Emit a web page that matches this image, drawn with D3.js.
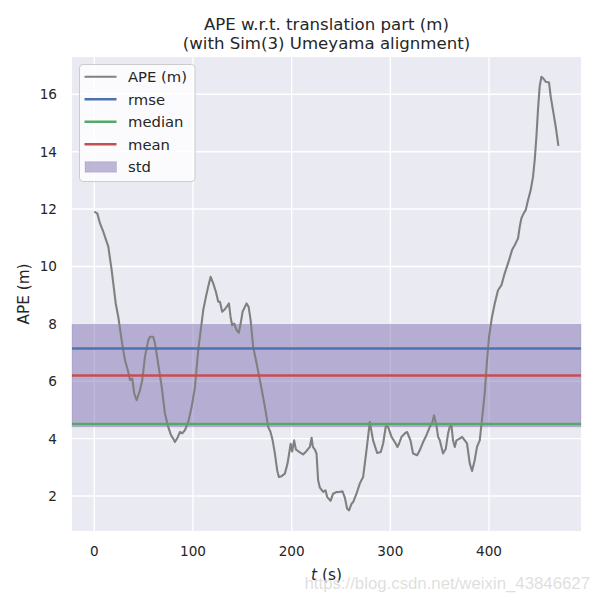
<!DOCTYPE html>
<html>
<head>
<meta charset="utf-8">
<script src="https://cdn.jsdelivr.net/npm/d3@7"></script>
<style>
  body { margin: 0; background: #fff; }
  svg { display: block; font-family: "DejaVu Sans", sans-serif; }
</style>
</head>
<body>
<div id="chart"></div>
<script>
// APE samples: time (s) and error (m)
const tValues = [0, 3.0, 5.8, 9.1, 14.2, 17.6, 21.7, 24.3, 27.7, 31.1, 34.4, 36.2, 38.5, 40.5, 42.9, 46.3, 48.6, 51.3, 54.7, 56.4,
  59.7, 61.5, 64.2, 68.3, 71.6, 74.9, 77.7, 80.0, 81.7, 84.5, 86.8, 89.1, 91.8, 95.2, 98.6, 102.0, 105.3, 110.4, 113.1, 115.4,
  117.9, 120.5, 123.2, 125.6, 127.3, 129.6, 131.6, 134.1, 136.4, 138.1, 139.7, 141.8, 144.2, 146.5, 148.3, 150.3, 152.6, 154.3, 156.4, 158.4,
  161.0, 164.5, 168.5, 172.9, 176.2, 178.6, 180.7, 183.0, 185.3, 187.0, 189.8, 193.1, 195.8, 199.0, 200.5, 202.5, 204.3, 208.3, 211.6, 215.1,
  218.4, 220.2, 221.5, 223.5, 225.2, 226.8, 228.6, 231.9, 234.3, 235.9, 239.4, 242.0, 245.5, 248.1, 251.5, 253.9, 256.2, 258.2, 260.7, 262.3,
  265.7, 269.1, 272.4, 275.8, 279.2, 282.5, 286.6, 290.3, 292.7, 295.4, 297.7, 301.2, 304.5, 307.2, 308.9, 311.3, 314.6, 317.0, 320.4, 323.0,
  327.1, 329.8, 333.2, 336.6, 340.0, 342.7, 344.3, 346.7, 348.4, 350.1, 353.4, 356.2, 358.5, 360.2, 361.9, 363.5, 365.3, 367.0, 370.3, 372.7,
  375.4, 377.7, 380.5, 382.8, 385.5, 387.8, 390.6, 393.1, 395.6, 398.0, 400.0, 403.0, 405.8, 409.1, 412.6, 415.9, 420.3, 423.3, 426.0, 429.4,
  431.1, 432.8, 435.1, 437.2, 439.5, 442.2, 444.6, 446.3, 448.0, 449.6, 451.3, 453.1, 454.7, 457.4, 460.8, 462.5, 464.8, 467.6, 470.3];
const apeValues = [11.91, 11.85, 11.50, 11.21, 10.69, 9.87, 8.71, 8.24, 7.43, 6.73, 6.33, 6.04, 6.09, 5.57, 5.34, 5.69, 6.04, 6.85, 7.43, 7.55,
  7.55, 7.32, 6.73, 5.80, 4.87, 4.41, 4.12, 4.00, 3.88, 4.04, 4.23, 4.18, 4.29, 4.58, 5.10, 5.80, 7.08, 8.48, 8.94, 9.29,
  9.64, 9.41, 9.12, 8.77, 8.77, 8.42, 8.48, 8.59, 8.71, 8.24, 7.95, 8.01, 7.78, 7.69, 8.01, 8.42, 8.59, 8.71, 8.59, 8.13,
  7.20, 6.62, 5.92, 5.10, 4.41, 4.23, 3.94, 3.48, 2.90, 2.66, 2.69, 2.78, 3.13, 3.82, 3.55, 3.94, 3.62, 3.52, 3.45, 3.57,
  3.71, 4.03, 3.71, 3.62, 3.48, 2.55, 2.29, 2.14, 2.20, 1.97, 1.83, 2.08, 2.14, 2.14, 2.16, 1.94, 1.56, 1.50, 1.73, 1.79,
  2.08, 2.44, 2.66, 3.59, 4.58, 3.94, 3.50, 3.53, 3.83, 4.43, 4.41, 4.06, 3.88, 3.71, 3.83, 4.06, 4.18, 4.23, 3.94, 3.48,
  3.42, 3.59, 3.88, 4.12, 4.41, 4.58, 4.81, 4.46, 4.06, 3.94, 3.48, 3.65, 4.18, 4.41, 4.47, 3.94, 3.71, 3.94, 4.00, 4.06,
  3.94, 3.83, 3.13, 2.87, 3.25, 3.71, 3.94, 4.75, 5.57, 6.73, 7.55, 8.24, 8.71, 9.17, 9.35, 9.76, 10.22, 10.57, 10.74, 10.98,
  11.38, 11.68, 11.85, 11.97, 12.31, 12.66, 13.13, 13.71, 14.52, 15.45, 16.27, 16.61, 16.56, 16.44, 16.41, 15.92, 15.45, 14.87, 14.20];

// statistics (evo draws the std band as mean +- std/2)
const statNames = ["rmse", "median", "mean"];
const statValues = [7.14, 4.51, 6.20];
const statColors = ["#4c72b0", "#55a868", "#c44e52"];
const stdValue = 3.58;

const xTicks = [0, 100, 200, 300, 400];
const yTicks = [2, 4, 6, 8, 10, 12, 14, 16];

const width = 600, height = 602;
const plot = {left: 72, top: 57, right: 581, bottom: 531};

const svg = d3.select("#chart").append("svg")
  .attr("width", width)
  .attr("height", height);

const x = d3.scaleLinear().domain([-22.6, 493.2]).range([plot.left, plot.right]);
const y = d3.scaleLinear().domain([0.78, 17.30]).range([plot.bottom, plot.top]);

svg.append("defs").append("clipPath").attr("id", "clip")
  .append("rect")
  .attr("x", plot.left).attr("y", plot.top)
  .attr("width", plot.right - plot.left).attr("height", plot.bottom - plot.top);

// background + grid
svg.append("rect")
  .attr("x", plot.left).attr("y", plot.top)
  .attr("width", plot.right - plot.left).attr("height", plot.bottom - plot.top)
  .attr("fill", "#eaeaf2");

svg.append("g").selectAll("line").data(xTicks).enter().append("line")
  .attr("x1", d => x(d)).attr("x2", d => x(d))
  .attr("y1", plot.top).attr("y2", plot.bottom)
  .attr("stroke", "#fff").attr("stroke-width", 1.4);

svg.append("g").selectAll("line").data(yTicks).enter().append("line")
  .attr("x1", plot.left).attr("x2", plot.right)
  .attr("y1", d => y(d)).attr("y2", d => y(d))
  .attr("stroke", "#fff").attr("stroke-width", 1.4);

const mean = statValues[statNames.indexOf("mean")];

// std band
svg.append("rect")
  .attr("x", plot.left)
  .attr("width", plot.right - plot.left)
  .attr("y", y(mean + stdValue / 2))
  .attr("height", y(mean - stdValue / 2) - y(mean + stdValue / 2))
  .attr("fill", "#8172b2")
  .attr("fill-opacity", 0.5)
  .attr("stroke", "#8172b2")
  .attr("stroke-opacity", 0.25)
  .attr("stroke-width", 1);

// APE curve
const line = d3.line()
  .x((d, i) => x(tValues[i]))
  .y(d => y(d));

svg.append("path")
  .datum(apeValues)
  .attr("clip-path", "url(#clip)")
  .attr("d", line)
  .attr("fill", "none")
  .attr("stroke", "#808080")
  .attr("stroke-width", 2.1)
  .attr("stroke-linejoin", "round");

// statistic lines
svg.append("g").selectAll("line").data(statValues).enter().append("line")
  .attr("x1", plot.left).attr("x2", plot.right)
  .attr("y1", d => y(d)).attr("y2", d => y(d))
  .attr("stroke", (d, i) => statColors[i])
  .attr("stroke-width", 2.5);

// tick labels (seaborn darkgrid: no spines, no tick marks)
svg.append("g").selectAll("text").data(xTicks).enter().append("text")
  .attr("x", d => x(d)).attr("y", 556)
  .attr("text-anchor", "middle")
  .attr("font-size", "13.6px")
  .attr("fill", "#262626")
  .text(d => d);

svg.append("g").selectAll("text").data(yTicks).enter().append("text")
  .attr("x", 57).attr("y", d => y(d) + 5)
  .attr("text-anchor", "end")
  .attr("font-size", "13.6px")
  .attr("fill", "#262626")
  .text(d => d);

// axis labels
const xl = svg.append("text")
  .attr("x", (plot.left + plot.right) / 2).attr("y", 580)
  .attr("text-anchor", "middle")
  .attr("font-size", "15.3px")
  .attr("fill", "#262626");
xl.append("tspan").attr("font-style", "italic").text("t");
xl.append("tspan").text(" (s)");

svg.append("text")
  .attr("transform", `translate(29, ${(plot.top + plot.bottom) / 2}) rotate(-90)`)
  .attr("text-anchor", "middle")
  .attr("font-size", "15.3px")
  .attr("fill", "#262626")
  .text("APE (m)");

// title
const title = svg.append("text")
  .attr("text-anchor", "middle")
  .attr("font-size", "16.6px")
  .attr("fill", "#262626");
title.append("tspan").attr("x", (plot.left + plot.right) / 2).attr("y", 30)
  .text("APE w.r.t. translation part (m)");
title.append("tspan").attr("x", (plot.left + plot.right) / 2).attr("y", 48.5)
  .text("(with Sim(3) Umeyama alignment)");

// legend
const legendItems = [
  {label: "APE (m)", color: "#808080", type: "line"},
  {label: "rmse", color: statColors[0], type: "line"},
  {label: "median", color: statColors[1], type: "line"},
  {label: "mean", color: statColors[2], type: "line"},
  {label: "std", color: "#8172b2", type: "patch"}
];
const legend = svg.append("g").attr("transform", "translate(79.5, 64.5)");
legend.append("rect")
  .attr("width", 115.5).attr("height", 117)
  .attr("rx", 3.5)
  .attr("fill", "#fff").attr("fill-opacity", 0.8)
  .attr("stroke", "#cccccc").attr("stroke-width", 1);

const rows = legend.selectAll("g.row").data(legendItems).enter().append("g")
  .attr("transform", (d, i) => `translate(0, ${12.2 + i * 22.5})`);
rows.filter(d => d.type === "line").append("line")
  .attr("x1", 5).attr("x2", 37)
  .attr("stroke", d => d.color)
  .attr("stroke-width", d => d.label === "APE (m)" ? 2.1 : 2.5);
rows.filter(d => d.type === "patch").append("rect")
  .attr("x", 5.5).attr("y", -5).attr("width", 31.5).attr("height", 10.5)
  .attr("fill", d => d.color).attr("fill-opacity", 0.5)
  .attr("stroke", d => d.color).attr("stroke-opacity", 0.25);
rows.append("text")
  .attr("x", 48.5).attr("y", 5.3)
  .attr("font-size", "14.8px")
  .attr("fill", "#262626")
  .text(d => d.label);

// watermark
svg.append("text")
  .attr("x", 590).attr("y", 589)
  .attr("text-anchor", "end")
  .attr("font-family", "Liberation Sans, Arial, sans-serif")
  .attr("font-size", "16.8px")
  .attr("fill", "#d9d9d9")
  .attr("fill-opacity", 0.85)
  .text("https://blog.csdn.net/weixin_43846627");
</script>
</body>
</html>
